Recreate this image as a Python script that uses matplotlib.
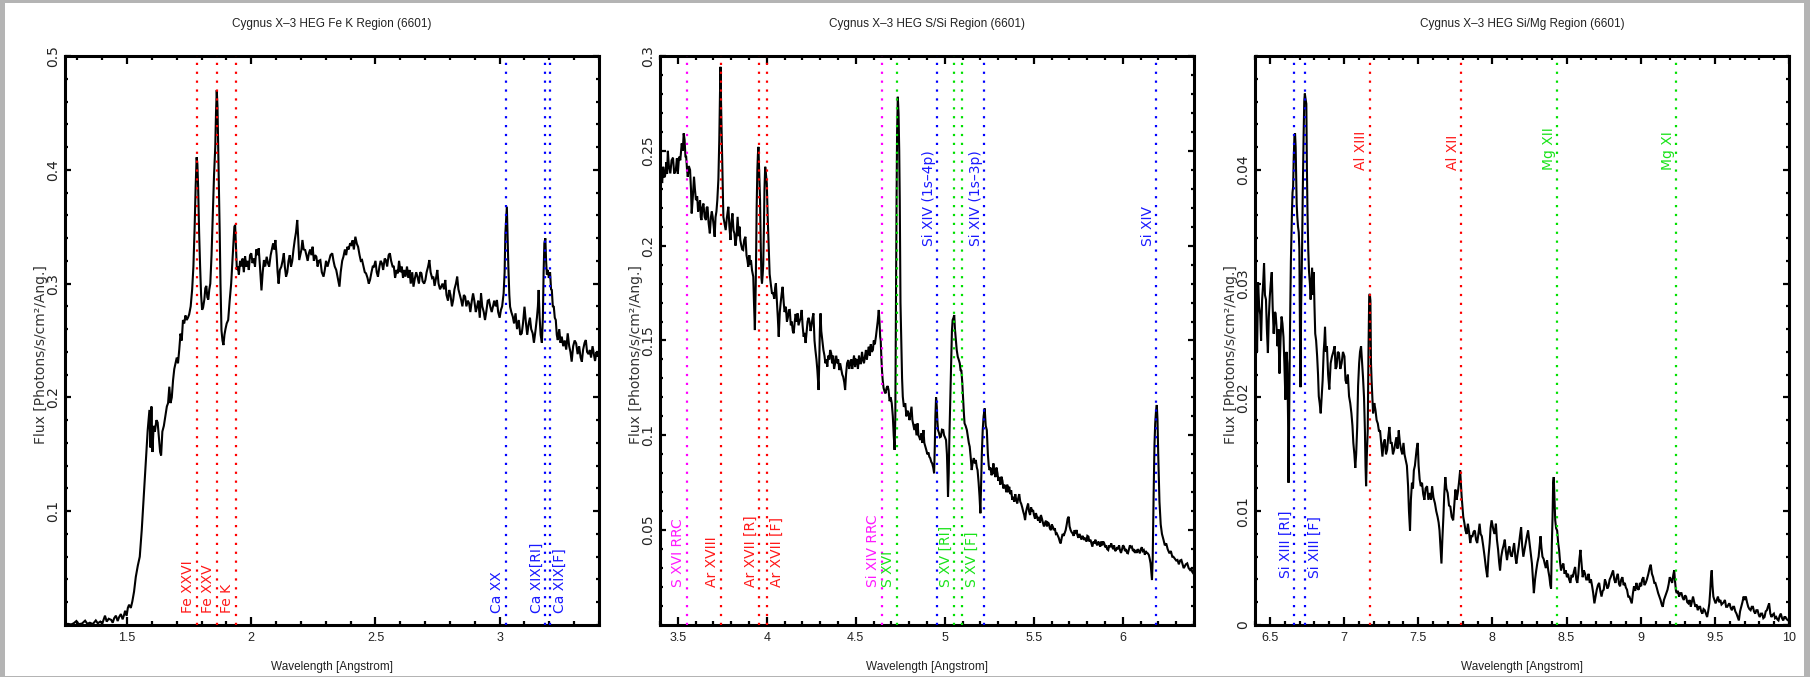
import matplotlib
matplotlib.use("Agg")
import matplotlib.pyplot as plt
from matplotlib.patches import Rectangle
from matplotlib.ticker import MultipleLocator

# ---------------------------------------------------------------------------
# Cygnus X-3, Chandra HEG spectrum (ObsID 6601): wavelength [A], flux
# ---------------------------------------------------------------------------
fe_spectrum = [
    (1.250, 0.0005), (1.262, 0.0010), (1.275, 0.0005), (1.285, 0.0015), (1.296, 0.0035),
    (1.305, 0.0008), (1.318, 0.0012), (1.331, 0.0038), (1.340, 0.0010), (1.350, 0.0020),
    (1.362, 0.0008), (1.374, 0.0040), (1.382, 0.0015), (1.392, 0.0030), (1.400, 0.0012),
    (1.411, 0.0082), (1.418, 0.0030), (1.426, 0.0055), (1.436, 0.0045), (1.442, 0.0020),
    (1.448, 0.0060), (1.455, 0.0082), (1.462, 0.0035), (1.468, 0.0070), (1.475, 0.0096),
    (1.482, 0.0050), (1.488, 0.0090), (1.492, 0.0125), (1.498, 0.0080), (1.503, 0.0150),
    (1.508, 0.0178), (1.515, 0.0150), (1.521, 0.0206), (1.528, 0.0293), (1.535, 0.0422),
    (1.543, 0.0520), (1.551, 0.0600), (1.559, 0.0835), (1.567, 0.1128), (1.575, 0.1421),
    (1.583, 0.1714), (1.590, 0.1890), (1.594, 0.1560), (1.598, 0.1920), (1.602, 0.1520),
    (1.607, 0.1750), (1.612, 0.1700), (1.618, 0.1800), (1.623, 0.1780), (1.628, 0.1650),
    (1.633, 0.1520), (1.637, 0.1490), (1.642, 0.1700), (1.648, 0.1750), (1.655, 0.1850),
    (1.660, 0.1920), (1.665, 0.1950), (1.670, 0.2094), (1.675, 0.1950), (1.680, 0.2000),
    (1.685, 0.2150), (1.690, 0.2250), (1.695, 0.2300), (1.700, 0.2350), (1.705, 0.2300),
    (1.710, 0.2420), (1.715, 0.2560), (1.720, 0.2500), (1.725, 0.2680), (1.730, 0.2650),
    (1.735, 0.2720), (1.740, 0.2680), (1.745, 0.2700), (1.750, 0.2730), (1.756, 0.2800),
    (1.762, 0.2950), (1.767, 0.3150), (1.772, 0.3500), (1.776, 0.3850), (1.780, 0.4110),
    (1.783, 0.4050), (1.786, 0.3850), (1.790, 0.3450), (1.794, 0.3150), (1.798, 0.2900),
    (1.802, 0.2770), (1.806, 0.2790), (1.811, 0.2860), (1.815, 0.2960), (1.819, 0.2980),
    (1.823, 0.2880), (1.827, 0.2860), (1.831, 0.2950), (1.835, 0.3000), (1.840, 0.3250),
    (1.845, 0.3600), (1.850, 0.3950), (1.855, 0.4200), (1.858, 0.4500), (1.861, 0.4700),
    (1.864, 0.4550), (1.867, 0.4200), (1.870, 0.3800), (1.873, 0.3440), (1.876, 0.3000),
    (1.880, 0.2590), (1.884, 0.2500), (1.888, 0.2460), (1.892, 0.2550), (1.896, 0.2600),
    (1.901, 0.2650), (1.907, 0.2680), (1.913, 0.2850), (1.919, 0.3000), (1.924, 0.3200),
    (1.928, 0.3350), (1.932, 0.3500), (1.935, 0.3515), (1.939, 0.3300), (1.942, 0.3120),
    (1.946, 0.3150), (1.950, 0.3080), (1.955, 0.3200), (1.960, 0.3150), (1.965, 0.3220),
    (1.970, 0.3100), (1.975, 0.3240), (1.980, 0.3150), (1.985, 0.3200), (1.990, 0.3120),
    (1.995, 0.3250), (2.000, 0.3266), (2.005, 0.3180), (2.010, 0.3220), (2.015, 0.3149),
    (2.020, 0.3300), (2.025, 0.3250), (2.030, 0.3310), (2.035, 0.3150), (2.041, 0.2940),
    (2.046, 0.3100), (2.051, 0.3207), (2.056, 0.3150), (2.062, 0.3236), (2.067, 0.3180),
    (2.072, 0.3149), (2.078, 0.3250), (2.083, 0.3300), (2.088, 0.3354), (2.093, 0.3300),
    (2.097, 0.3383), (2.102, 0.3250), (2.106, 0.3100), (2.110, 0.3000), (2.115, 0.3120),
    (2.121, 0.3149), (2.126, 0.3200), (2.131, 0.3266), (2.135, 0.3150), (2.140, 0.3061),
    (2.145, 0.3100), (2.150, 0.3200), (2.155, 0.3250), (2.160, 0.3149), (2.165, 0.3200),
    (2.170, 0.3300), (2.175, 0.3383), (2.180, 0.3450), (2.185, 0.3559), (2.189, 0.3400),
    (2.193, 0.3207), (2.197, 0.3250), (2.202, 0.3300), (2.206, 0.3383), (2.211, 0.3300),
    (2.217, 0.3295), (2.222, 0.3250), (2.227, 0.3200), (2.232, 0.3266), (2.237, 0.3300),
    (2.242, 0.3250), (2.247, 0.3324), (2.252, 0.3200), (2.257, 0.3250), (2.262, 0.3236),
    (2.267, 0.3150), (2.272, 0.3200), (2.278, 0.3207), (2.284, 0.3100), (2.291, 0.3061),
    (2.296, 0.3120), (2.301, 0.3200), (2.307, 0.3149), (2.313, 0.3200), (2.319, 0.3250),
    (2.326, 0.3266), (2.331, 0.3200), (2.336, 0.3150), (2.342, 0.3120), (2.348, 0.3050),
    (2.355, 0.2973), (2.360, 0.3100), (2.366, 0.3200), (2.371, 0.3236), (2.377, 0.3300),
    (2.382, 0.3250), (2.387, 0.3324), (2.392, 0.3300), (2.398, 0.3354), (2.403, 0.3342),
    (2.408, 0.3380), (2.413, 0.3300), (2.419, 0.3412), (2.425, 0.3350), (2.430, 0.3324),
    (2.436, 0.3250), (2.441, 0.3200), (2.446, 0.3207), (2.452, 0.3150), (2.457, 0.3100),
    (2.462, 0.3090), (2.468, 0.3050), (2.473, 0.3000), (2.478, 0.3032), (2.484, 0.3100),
    (2.489, 0.3150), (2.494, 0.3149), (2.500, 0.3200), (2.505, 0.3100), (2.510, 0.3061),
    (2.516, 0.3150), (2.521, 0.3200), (2.526, 0.3178), (2.531, 0.3120), (2.537, 0.3220),
    (2.542, 0.3207), (2.547, 0.3150), (2.553, 0.3250), (2.558, 0.3266), (2.563, 0.3200),
    (2.569, 0.3150), (2.574, 0.3149), (2.579, 0.3050), (2.585, 0.3120), (2.590, 0.3090),
    (2.595, 0.3200), (2.601, 0.3100), (2.606, 0.3149), (2.611, 0.3050), (2.616, 0.3120),
    (2.621, 0.3061), (2.627, 0.3150), (2.632, 0.3050), (2.637, 0.3120), (2.642, 0.3000),
    (2.648, 0.3100), (2.653, 0.2973), (2.659, 0.3050), (2.664, 0.3100), (2.669, 0.3061),
    (2.675, 0.3000), (2.680, 0.3100), (2.685, 0.3090), (2.690, 0.3020), (2.696, 0.3000),
    (2.701, 0.3032), (2.706, 0.3100), (2.712, 0.3150), (2.717, 0.3207), (2.722, 0.3100),
    (2.728, 0.3050), (2.733, 0.3061), (2.738, 0.2980), (2.744, 0.3050), (2.749, 0.3120),
    (2.754, 0.3000), (2.760, 0.2950), (2.765, 0.2973), (2.770, 0.3000), (2.776, 0.2950),
    (2.781, 0.3032), (2.786, 0.2900), (2.792, 0.2850), (2.797, 0.2944), (2.802, 0.2900),
    (2.808, 0.2800), (2.813, 0.2856), (2.818, 0.2950), (2.824, 0.3000), (2.829, 0.3061),
    (2.834, 0.2950), (2.840, 0.2900), (2.845, 0.2856), (2.850, 0.2800), (2.856, 0.2900),
    (2.861, 0.2885), (2.866, 0.2800), (2.872, 0.2850), (2.877, 0.2827), (2.882, 0.2750),
    (2.888, 0.2850), (2.893, 0.2914), (2.898, 0.2850), (2.904, 0.2750), (2.909, 0.2797),
    (2.914, 0.2850), (2.920, 0.2700), (2.925, 0.2914), (2.930, 0.2800), (2.936, 0.2750),
    (2.941, 0.2680), (2.946, 0.2750), (2.952, 0.2850), (2.957, 0.2856), (2.962, 0.2800),
    (2.968, 0.2750), (2.973, 0.2797), (2.978, 0.2850), (2.984, 0.2800), (2.989, 0.2856),
    (2.994, 0.2750), (3.000, 0.2700), (3.005, 0.2768), (3.010, 0.2800), (3.016, 0.2914),
    (3.020, 0.3100), (3.023, 0.3442), (3.027, 0.3600), (3.029, 0.3676), (3.032, 0.3400),
    (3.035, 0.3149), (3.039, 0.2900), (3.042, 0.2797), (3.047, 0.2750), (3.053, 0.2709),
    (3.058, 0.2650), (3.064, 0.2739), (3.070, 0.2600), (3.077, 0.2680), (3.083, 0.2550),
    (3.089, 0.2563), (3.094, 0.2650), (3.100, 0.2797), (3.106, 0.2650), (3.111, 0.2550),
    (3.117, 0.2651), (3.122, 0.2700), (3.127, 0.2600), (3.133, 0.2563), (3.138, 0.2480),
    (3.145, 0.2600), (3.150, 0.2700), (3.154, 0.2800), (3.157, 0.2944), (3.161, 0.2700),
    (3.165, 0.2550), (3.170, 0.2480), (3.174, 0.2700), (3.177, 0.3100), (3.180, 0.3354),
    (3.184, 0.3398), (3.187, 0.3200), (3.190, 0.3080), (3.194, 0.3120), (3.198, 0.3050),
    (3.203, 0.3100), (3.207, 0.2950), (3.210, 0.2944), (3.214, 0.2800), (3.218, 0.2797),
    (3.222, 0.2700), (3.226, 0.2680), (3.230, 0.2550), (3.234, 0.2504), (3.240, 0.2600),
    (3.245, 0.2480), (3.250, 0.2534), (3.256, 0.2450), (3.262, 0.2500), (3.268, 0.2420),
    (3.274, 0.2563), (3.280, 0.2450), (3.285, 0.2400), (3.290, 0.2314), (3.296, 0.2450),
    (3.302, 0.2500), (3.308, 0.2475), (3.314, 0.2380), (3.320, 0.2450), (3.326, 0.2350),
    (3.331, 0.2314), (3.336, 0.2420), (3.342, 0.2480), (3.347, 0.2504), (3.352, 0.2400),
    (3.358, 0.2380), (3.363, 0.2417), (3.368, 0.2350), (3.374, 0.2450), (3.379, 0.2387),
    (3.384, 0.2320), (3.390, 0.2400), (3.395, 0.2358), (3.400, 0.2380),
]

ssi_spectrum = [
    (3.400, 0.2346), (3.406, 0.2390), (3.412, 0.2330), (3.418, 0.2416), (3.424, 0.2360),
    (3.429, 0.2372), (3.436, 0.2440), (3.440, 0.2380), (3.444, 0.2500), (3.450, 0.2420),
    (3.458, 0.2381), (3.465, 0.2450), (3.473, 0.2464), (3.480, 0.2380), (3.489, 0.2399),
    (3.495, 0.2460), (3.500, 0.2380), (3.507, 0.2469), (3.514, 0.2450), (3.522, 0.2539),
    (3.528, 0.2500), (3.533, 0.2592), (3.538, 0.2560), (3.543, 0.2470), (3.547, 0.2469),
    (3.552, 0.2400), (3.556, 0.2363), (3.562, 0.2420), (3.569, 0.2399), (3.574, 0.2300),
    (3.578, 0.2170), (3.584, 0.2250), (3.591, 0.2363), (3.596, 0.2300), (3.602, 0.2240),
    (3.609, 0.2260), (3.614, 0.2180), (3.618, 0.2205), (3.625, 0.2240), (3.629, 0.2150),
    (3.633, 0.2135), (3.638, 0.2200), (3.644, 0.2222), (3.651, 0.2150), (3.658, 0.2135),
    (3.662, 0.2200), (3.667, 0.2205), (3.673, 0.2120), (3.680, 0.2065), (3.686, 0.2150),
    (3.691, 0.2180), (3.696, 0.2152), (3.702, 0.2100), (3.707, 0.2047), (3.712, 0.2150),
    (3.717, 0.2180), (3.722, 0.2240), (3.728, 0.2350), (3.733, 0.2557), (3.737, 0.2800),
    (3.740, 0.2943), (3.743, 0.2750), (3.747, 0.2557), (3.752, 0.2300), (3.756, 0.2152),
    (3.762, 0.2120), (3.769, 0.2082), (3.776, 0.2150), (3.784, 0.2205), (3.790, 0.2100),
    (3.796, 0.2030), (3.801, 0.2120), (3.807, 0.2170), (3.813, 0.2080), (3.818, 0.2065),
    (3.824, 0.2000), (3.830, 0.2050), (3.836, 0.2152), (3.842, 0.2050), (3.847, 0.2100),
    (3.851, 0.2030), (3.857, 0.2000), (3.862, 0.1980), (3.867, 0.1977), (3.873, 0.2030),
    (3.880, 0.2047), (3.886, 0.1950), (3.891, 0.1924), (3.896, 0.1889), (3.902, 0.1950),
    (3.906, 0.1900), (3.911, 0.1924), (3.917, 0.1870), (3.924, 0.1836), (3.928, 0.1700),
    (3.933, 0.1555), (3.938, 0.1800), (3.943, 0.2200), (3.947, 0.2400), (3.950, 0.2480),
    (3.953, 0.2521), (3.957, 0.2400), (3.962, 0.2240), (3.966, 0.2000), (3.970, 0.1830),
    (3.973, 0.1801), (3.977, 0.1850), (3.980, 0.1900), (3.984, 0.2100), (3.987, 0.2300),
    (3.991, 0.2416), (3.995, 0.2380), (4.000, 0.2328), (4.005, 0.2150), (4.011, 0.1977),
    (4.016, 0.1850), (4.022, 0.1801), (4.029, 0.1750), (4.036, 0.1749), (4.042, 0.1720),
    (4.047, 0.1780), (4.051, 0.1801), (4.057, 0.1700), (4.062, 0.1620), (4.067, 0.1520),
    (4.073, 0.1650), (4.078, 0.1700), (4.084, 0.1750), (4.089, 0.1783), (4.095, 0.1700),
    (4.100, 0.1650), (4.107, 0.1678), (4.113, 0.1600), (4.118, 0.1620), (4.124, 0.1660),
    (4.129, 0.1661), (4.135, 0.1580), (4.140, 0.1600), (4.146, 0.1550), (4.151, 0.1538),
    (4.157, 0.1600), (4.162, 0.1640), (4.168, 0.1600), (4.173, 0.1643), (4.178, 0.1580),
    (4.184, 0.1600), (4.190, 0.1620), (4.196, 0.1661), (4.201, 0.1580), (4.207, 0.1520),
    (4.212, 0.1540), (4.218, 0.1487), (4.224, 0.1550), (4.229, 0.1600), (4.235, 0.1620),
    (4.240, 0.1600), (4.246, 0.1550), (4.251, 0.1580), (4.257, 0.1620), (4.262, 0.1643),
    (4.268, 0.1500), (4.273, 0.1450), (4.279, 0.1400), (4.284, 0.1344), (4.288, 0.1280),
    (4.291, 0.1239), (4.295, 0.1400), (4.298, 0.1550), (4.302, 0.1643), (4.306, 0.1550),
    (4.312, 0.1500), (4.318, 0.1450), (4.324, 0.1420), (4.329, 0.1380), (4.334, 0.1400),
    (4.340, 0.1362), (4.345, 0.1420), (4.351, 0.1400), (4.356, 0.1450), (4.362, 0.1432),
    (4.367, 0.1380), (4.373, 0.1420), (4.378, 0.1350), (4.384, 0.1380), (4.390, 0.1420),
    (4.396, 0.1380), (4.401, 0.1400), (4.407, 0.1344), (4.412, 0.1380), (4.418, 0.1350),
    (4.424, 0.1320), (4.429, 0.1309), (4.435, 0.1280), (4.440, 0.1239), (4.445, 0.1320),
    (4.451, 0.1380), (4.458, 0.1397), (4.463, 0.1350), (4.469, 0.1380), (4.475, 0.1400),
    (4.480, 0.1350), (4.484, 0.1380), (4.490, 0.1420), (4.496, 0.1360), (4.501, 0.1400),
    (4.507, 0.1397), (4.512, 0.1350), (4.518, 0.1420), (4.524, 0.1380), (4.529, 0.1380),
    (4.535, 0.1440), (4.540, 0.1400), (4.546, 0.1380), (4.551, 0.1414), (4.557, 0.1450),
    (4.562, 0.1400), (4.568, 0.1440), (4.573, 0.1467), (4.579, 0.1420), (4.584, 0.1480),
    (4.590, 0.1440), (4.596, 0.1450), (4.601, 0.1500), (4.607, 0.1480), (4.613, 0.1520),
    (4.618, 0.1560), (4.623, 0.1600), (4.627, 0.1640), (4.629, 0.1661), (4.633, 0.1600),
    (4.637, 0.1520), (4.640, 0.1500), (4.644, 0.1400), (4.648, 0.1330), (4.651, 0.1292),
    (4.656, 0.1250), (4.662, 0.1230), (4.667, 0.1221), (4.673, 0.1250), (4.679, 0.1260),
    (4.684, 0.1239), (4.690, 0.1180), (4.696, 0.1200), (4.702, 0.1169), (4.708, 0.1100),
    (4.713, 0.1000), (4.718, 0.0923), (4.722, 0.1100), (4.725, 0.1600), (4.729, 0.2240),
    (4.732, 0.2600), (4.736, 0.2785), (4.740, 0.2700), (4.744, 0.2500), (4.747, 0.2240),
    (4.751, 0.1700), (4.756, 0.1467), (4.760, 0.1300), (4.764, 0.1204), (4.770, 0.1150),
    (4.778, 0.1169), (4.784, 0.1100), (4.790, 0.1130), (4.796, 0.1116), (4.802, 0.1080),
    (4.808, 0.1120), (4.813, 0.1151), (4.818, 0.1080), (4.824, 0.1050), (4.829, 0.1028),
    (4.835, 0.1060), (4.841, 0.1000), (4.847, 0.1063), (4.852, 0.1000), (4.857, 0.0990),
    (4.862, 0.0975), (4.868, 0.1010), (4.874, 0.0960), (4.880, 0.1028), (4.885, 0.0960),
    (4.891, 0.0940), (4.896, 0.0923), (4.902, 0.0900), (4.908, 0.0910), (4.913, 0.0887),
    (4.918, 0.0880), (4.924, 0.0860), (4.929, 0.0852), (4.935, 0.0830), (4.940, 0.0800),
    (4.944, 0.0950), (4.947, 0.1100), (4.951, 0.1200), (4.955, 0.1150), (4.958, 0.1080),
    (4.962, 0.1028), (4.968, 0.1010), (4.973, 0.0990), (4.978, 0.0993), (4.984, 0.1030),
    (4.991, 0.1028), (4.996, 0.1000), (5.001, 0.0990), (5.007, 0.0975), (5.012, 0.0900),
    (5.015, 0.0800), (5.018, 0.0676), (5.022, 0.0800), (5.026, 0.1000), (5.031, 0.1204),
    (5.036, 0.1400), (5.040, 0.1550), (5.044, 0.1608), (5.049, 0.1620), (5.053, 0.1634),
    (5.057, 0.1560), (5.062, 0.1502), (5.067, 0.1450), (5.073, 0.1414), (5.078, 0.1400),
    (5.084, 0.1380), (5.089, 0.1340), (5.093, 0.1344), (5.098, 0.1280), (5.102, 0.1204),
    (5.107, 0.1120), (5.111, 0.1063), (5.117, 0.1050), (5.124, 0.1028), (5.130, 0.0990),
    (5.135, 0.0960), (5.140, 0.0940), (5.146, 0.0880), (5.151, 0.0817), (5.157, 0.0860),
    (5.163, 0.0880), (5.169, 0.0852), (5.174, 0.0870), (5.180, 0.0830), (5.184, 0.0817),
    (5.190, 0.0750), (5.195, 0.0680), (5.200, 0.0589), (5.204, 0.0750), (5.208, 0.0900),
    (5.213, 0.1028), (5.218, 0.1100), (5.224, 0.1142), (5.230, 0.1050), (5.236, 0.1028),
    (5.242, 0.0900), (5.247, 0.0840), (5.251, 0.0817), (5.257, 0.0830), (5.262, 0.0790),
    (5.268, 0.0800), (5.273, 0.0852), (5.279, 0.0800), (5.285, 0.0780), (5.290, 0.0830),
    (5.296, 0.0800), (5.301, 0.0760), (5.307, 0.0780), (5.312, 0.0740), (5.318, 0.0782),
    (5.324, 0.0760), (5.329, 0.0720), (5.334, 0.0740), (5.340, 0.0729), (5.346, 0.0700),
    (5.351, 0.0740), (5.356, 0.0700), (5.362, 0.0729), (5.368, 0.0690), (5.373, 0.0710),
    (5.379, 0.0660), (5.384, 0.0676), (5.390, 0.0650), (5.396, 0.0690), (5.401, 0.0660),
    (5.407, 0.0641), (5.413, 0.0670), (5.418, 0.0690), (5.424, 0.0650), (5.429, 0.0640),
    (5.435, 0.0620), (5.440, 0.0600), (5.446, 0.0580), (5.451, 0.0553), (5.457, 0.0600),
    (5.462, 0.0620), (5.468, 0.0640), (5.473, 0.0600), (5.479, 0.0580), (5.485, 0.0620),
    (5.490, 0.0600), (5.496, 0.0606), (5.501, 0.0580), (5.507, 0.0560), (5.512, 0.0590),
    (5.518, 0.0571), (5.524, 0.0550), (5.529, 0.0570), (5.535, 0.0540), (5.540, 0.0580),
    (5.546, 0.0560), (5.551, 0.0540), (5.557, 0.0520), (5.562, 0.0536), (5.568, 0.0550),
    (5.573, 0.0520), (5.579, 0.0540), (5.584, 0.0536), (5.590, 0.0510), (5.596, 0.0500),
    (5.601, 0.0530), (5.607, 0.0518), (5.612, 0.0500), (5.618, 0.0510), (5.624, 0.0480),
    (5.629, 0.0483), (5.635, 0.0470), (5.640, 0.0460), (5.646, 0.0440), (5.651, 0.0430),
    (5.657, 0.0460), (5.662, 0.0480), (5.668, 0.0470), (5.673, 0.0483), (5.679, 0.0500),
    (5.685, 0.0530), (5.690, 0.0560), (5.696, 0.0571), (5.701, 0.0520), (5.707, 0.0500),
    (5.712, 0.0490), (5.718, 0.0483), (5.724, 0.0470), (5.729, 0.0500), (5.735, 0.0480),
    (5.740, 0.0501), (5.746, 0.0470), (5.751, 0.0460), (5.757, 0.0480), (5.762, 0.0466),
    (5.768, 0.0450), (5.773, 0.0470), (5.779, 0.0460), (5.784, 0.0448), (5.790, 0.0460),
    (5.796, 0.0440), (5.801, 0.0470), (5.807, 0.0466), (5.812, 0.0440), (5.818, 0.0450),
    (5.824, 0.0430), (5.829, 0.0413), (5.835, 0.0440), (5.840, 0.0430), (5.846, 0.0450),
    (5.851, 0.0430), (5.857, 0.0420), (5.862, 0.0440), (5.868, 0.0430), (5.873, 0.0413),
    (5.879, 0.0440), (5.884, 0.0420), (5.890, 0.0440), (5.896, 0.0430), (5.901, 0.0410),
    (5.907, 0.0420), (5.912, 0.0400), (5.918, 0.0395), (5.924, 0.0420), (5.929, 0.0410),
    (5.935, 0.0430), (5.940, 0.0413), (5.946, 0.0400), (5.951, 0.0420), (5.957, 0.0390),
    (5.962, 0.0395), (5.968, 0.0410), (5.973, 0.0400), (5.979, 0.0420), (5.984, 0.0395),
    (5.990, 0.0380), (5.996, 0.0400), (6.001, 0.0420), (6.007, 0.0413), (6.012, 0.0390),
    (6.018, 0.0400), (6.024, 0.0380), (6.029, 0.0378), (6.035, 0.0400), (6.040, 0.0420),
    (6.046, 0.0410), (6.051, 0.0413), (6.057, 0.0390), (6.062, 0.0400), (6.068, 0.0380),
    (6.073, 0.0395), (6.079, 0.0380), (6.084, 0.0400), (6.090, 0.0390), (6.096, 0.0378),
    (6.101, 0.0400), (6.107, 0.0410), (6.112, 0.0390), (6.118, 0.0395), (6.124, 0.0370),
    (6.129, 0.0390), (6.135, 0.0380), (6.140, 0.0378), (6.146, 0.0370), (6.151, 0.0350),
    (6.156, 0.0325), (6.160, 0.0280), (6.164, 0.0237), (6.168, 0.0350), (6.173, 0.0676),
    (6.178, 0.0950), (6.182, 0.1063), (6.186, 0.1120), (6.191, 0.1160), (6.195, 0.1080),
    (6.199, 0.0900), (6.202, 0.0800), (6.206, 0.0650), (6.213, 0.0530), (6.220, 0.0480),
    (6.229, 0.0448), (6.236, 0.0420), (6.244, 0.0430), (6.252, 0.0400), (6.262, 0.0378),
    (6.270, 0.0390), (6.278, 0.0360), (6.284, 0.0360), (6.292, 0.0350), (6.300, 0.0340),
    (6.307, 0.0343), (6.315, 0.0320), (6.322, 0.0340), (6.329, 0.0343), (6.336, 0.0320),
    (6.342, 0.0300), (6.347, 0.0307), (6.354, 0.0320), (6.362, 0.0325), (6.370, 0.0300),
    (6.378, 0.0290), (6.385, 0.0300), (6.390, 0.0280), (6.396, 0.0272), (6.400, 0.0275),
]

simg_spectrum = [
    (6.400, 0.0290), (6.408, 0.0297), (6.414, 0.0240), (6.421, 0.0301), (6.428, 0.0280),
    (6.435, 0.0273), (6.441, 0.0250), (6.448, 0.0286), (6.455, 0.0300), (6.461, 0.0318),
    (6.467, 0.0290), (6.474, 0.0286), (6.480, 0.0260), (6.487, 0.0239), (6.493, 0.0270),
    (6.500, 0.0289), (6.506, 0.0300), (6.513, 0.0310), (6.519, 0.0280), (6.526, 0.0256),
    (6.533, 0.0275), (6.539, 0.0274), (6.546, 0.0260), (6.552, 0.0245), (6.558, 0.0260),
    (6.565, 0.0221), (6.572, 0.0250), (6.579, 0.0271), (6.585, 0.0265), (6.592, 0.0253),
    (6.598, 0.0230), (6.605, 0.0198), (6.612, 0.0240), (6.618, 0.0230), (6.623, 0.0180),
    (6.626, 0.0125), (6.630, 0.0180), (6.636, 0.0260), (6.642, 0.0320), (6.649, 0.0362),
    (6.653, 0.0380), (6.657, 0.0385), (6.661, 0.0410), (6.666, 0.0430), (6.670, 0.0432),
    (6.674, 0.0420), (6.678, 0.0389), (6.681, 0.0370), (6.685, 0.0359), (6.690, 0.0350),
    (6.695, 0.0345), (6.699, 0.0330), (6.703, 0.0260), (6.707, 0.0209), (6.711, 0.0280),
    (6.717, 0.0327), (6.722, 0.0380), (6.728, 0.0432), (6.732, 0.0460), (6.736, 0.0467),
    (6.741, 0.0462), (6.746, 0.0458), (6.750, 0.0400), (6.754, 0.0362), (6.759, 0.0330),
    (6.764, 0.0311), (6.770, 0.0300), (6.775, 0.0286), (6.780, 0.0300), (6.785, 0.0314),
    (6.791, 0.0290), (6.796, 0.0310), (6.801, 0.0280), (6.806, 0.0256), (6.812, 0.0250),
    (6.819, 0.0236), (6.825, 0.0220), (6.830, 0.0201), (6.836, 0.0195), (6.843, 0.0186),
    (6.849, 0.0200), (6.856, 0.0215), (6.863, 0.0240), (6.868, 0.0250), (6.872, 0.0262),
    (6.878, 0.0240), (6.885, 0.0245), (6.893, 0.0220), (6.901, 0.0207), (6.910, 0.0230),
    (6.919, 0.0236), (6.928, 0.0240), (6.937, 0.0245), (6.943, 0.0225), (6.950, 0.0227),
    (6.958, 0.0240), (6.966, 0.0239), (6.975, 0.0225), (6.984, 0.0230), (6.993, 0.0240),
    (7.003, 0.0236), (7.010, 0.0215), (7.018, 0.0212), (7.026, 0.0220), (7.034, 0.0201),
    (7.042, 0.0195), (7.050, 0.0186), (7.057, 0.0175), (7.063, 0.0160), (7.070, 0.0150),
    (7.076, 0.0138), (7.082, 0.0150), (7.089, 0.0174), (7.095, 0.0210), (7.102, 0.0230),
    (7.108, 0.0240), (7.115, 0.0245), (7.122, 0.0230), (7.128, 0.0218), (7.135, 0.0200),
    (7.141, 0.0171), (7.145, 0.0140), (7.149, 0.0122), (7.154, 0.0150), (7.160, 0.0171),
    (7.165, 0.0240), (7.170, 0.0289), (7.174, 0.0291), (7.178, 0.0285), (7.182, 0.0230),
    (7.186, 0.0215), (7.191, 0.0200), (7.196, 0.0186), (7.204, 0.0195), (7.212, 0.0189),
    (7.220, 0.0180), (7.228, 0.0177), (7.236, 0.0170), (7.243, 0.0171), (7.251, 0.0160),
    (7.259, 0.0148), (7.267, 0.0160), (7.275, 0.0163), (7.283, 0.0150), (7.291, 0.0154),
    (7.298, 0.0165), (7.306, 0.0174), (7.314, 0.0160), (7.322, 0.0160), (7.330, 0.0150),
    (7.338, 0.0154), (7.346, 0.0160), (7.353, 0.0165), (7.361, 0.0155), (7.369, 0.0171),
    (7.377, 0.0160), (7.385, 0.0154), (7.393, 0.0150), (7.401, 0.0160), (7.408, 0.0150),
    (7.416, 0.0145), (7.424, 0.0140), (7.432, 0.0122), (7.438, 0.0100), (7.445, 0.0083),
    (7.451, 0.0110), (7.458, 0.0125), (7.465, 0.0120), (7.471, 0.0136), (7.478, 0.0140),
    (7.484, 0.0148), (7.490, 0.0155), (7.497, 0.0160), (7.503, 0.0140), (7.510, 0.0128),
    (7.518, 0.0122), (7.526, 0.0125), (7.534, 0.0115), (7.542, 0.0110), (7.550, 0.0120),
    (7.560, 0.0122), (7.569, 0.0110), (7.579, 0.0116), (7.587, 0.0110), (7.594, 0.0122),
    (7.603, 0.0112), (7.613, 0.0107), (7.622, 0.0100), (7.631, 0.0095), (7.638, 0.0090),
    (7.644, 0.0083), (7.650, 0.0070), (7.657, 0.0054), (7.663, 0.0075), (7.670, 0.0095),
    (7.676, 0.0115), (7.683, 0.0130), (7.690, 0.0120), (7.699, 0.0116), (7.708, 0.0105),
    (7.717, 0.0104), (7.726, 0.0095), (7.736, 0.0092), (7.743, 0.0105), (7.751, 0.0119),
    (7.759, 0.0110), (7.767, 0.0116), (7.775, 0.0125), (7.783, 0.0136), (7.788, 0.0125),
    (7.793, 0.0113), (7.798, 0.0105), (7.804, 0.0095), (7.811, 0.0090), (7.819, 0.0083),
    (7.827, 0.0080), (7.835, 0.0089), (7.843, 0.0082), (7.851, 0.0072), (7.858, 0.0078),
    (7.866, 0.0078), (7.874, 0.0082), (7.882, 0.0083), (7.890, 0.0075), (7.898, 0.0072),
    (7.906, 0.0080), (7.914, 0.0089), (7.921, 0.0080), (7.929, 0.0078), (7.938, 0.0070),
    (7.948, 0.0060), (7.957, 0.0050), (7.966, 0.0042), (7.974, 0.0060), (7.982, 0.0072),
    (7.988, 0.0085), (7.995, 0.0092), (8.001, 0.0088), (8.008, 0.0083), (8.016, 0.0080),
    (8.024, 0.0089), (8.031, 0.0075), (8.039, 0.0066), (8.046, 0.0055), (8.052, 0.0048),
    (8.060, 0.0060), (8.068, 0.0066), (8.076, 0.0070), (8.084, 0.0075), (8.091, 0.0065),
    (8.099, 0.0057), (8.107, 0.0065), (8.115, 0.0069), (8.123, 0.0062), (8.131, 0.0060),
    (8.139, 0.0066), (8.147, 0.0072), (8.155, 0.0060), (8.162, 0.0054), (8.170, 0.0062),
    (8.178, 0.0069), (8.186, 0.0078), (8.194, 0.0086), (8.201, 0.0070), (8.209, 0.0060),
    (8.217, 0.0066), (8.225, 0.0072), (8.233, 0.0078), (8.241, 0.0083), (8.248, 0.0075),
    (8.254, 0.0069), (8.261, 0.0060), (8.267, 0.0054), (8.274, 0.0040), (8.280, 0.0028),
    (8.288, 0.0040), (8.296, 0.0048), (8.304, 0.0055), (8.312, 0.0060), (8.319, 0.0070),
    (8.325, 0.0078), (8.331, 0.0068), (8.338, 0.0060), (8.346, 0.0058), (8.353, 0.0054),
    (8.361, 0.0050), (8.369, 0.0057), (8.377, 0.0048), (8.385, 0.0042), (8.391, 0.0035),
    (8.396, 0.0032), (8.401, 0.0070), (8.406, 0.0095), (8.410, 0.0125), (8.414, 0.0130),
    (8.419, 0.0110), (8.424, 0.0092), (8.430, 0.0085), (8.437, 0.0083), (8.444, 0.0072),
    (8.450, 0.0066), (8.457, 0.0055), (8.463, 0.0048), (8.471, 0.0052), (8.479, 0.0054),
    (8.487, 0.0045), (8.495, 0.0048), (8.503, 0.0042), (8.510, 0.0045), (8.518, 0.0040),
    (8.526, 0.0037), (8.534, 0.0044), (8.542, 0.0042), (8.550, 0.0047), (8.558, 0.0051),
    (8.566, 0.0040), (8.573, 0.0037), (8.580, 0.0045), (8.587, 0.0058), (8.594, 0.0066),
    (8.601, 0.0055), (8.609, 0.0042), (8.617, 0.0048), (8.625, 0.0045), (8.633, 0.0040),
    (8.641, 0.0040), (8.649, 0.0045), (8.657, 0.0037), (8.665, 0.0040), (8.673, 0.0034),
    (8.680, 0.0028), (8.688, 0.0019), (8.696, 0.0025), (8.704, 0.0031), (8.712, 0.0035),
    (8.720, 0.0037), (8.728, 0.0030), (8.736, 0.0025), (8.744, 0.0030), (8.751, 0.0031),
    (8.759, 0.0040), (8.767, 0.0037), (8.775, 0.0032), (8.783, 0.0034), (8.791, 0.0040),
    (8.798, 0.0042), (8.806, 0.0045), (8.814, 0.0048), (8.822, 0.0040), (8.830, 0.0037),
    (8.838, 0.0042), (8.846, 0.0045), (8.854, 0.0036), (8.861, 0.0034), (8.869, 0.0040),
    (8.877, 0.0042), (8.885, 0.0035), (8.893, 0.0037), (8.900, 0.0033), (8.908, 0.0031),
    (8.916, 0.0025), (8.924, 0.0025), (8.932, 0.0022), (8.940, 0.0019), (8.948, 0.0028),
    (8.955, 0.0034), (8.963, 0.0030), (8.971, 0.0037), (8.979, 0.0032), (8.987, 0.0031),
    (8.995, 0.0037), (9.003, 0.0034), (9.010, 0.0040), (9.018, 0.0042), (9.026, 0.0035),
    (9.034, 0.0037), (9.042, 0.0040), (9.052, 0.0045), (9.060, 0.0050), (9.068, 0.0053),
    (9.076, 0.0045), (9.084, 0.0042), (9.092, 0.0037), (9.099, 0.0037), (9.108, 0.0033),
    (9.118, 0.0028), (9.126, 0.0025), (9.134, 0.0022), (9.142, 0.0018), (9.149, 0.0016),
    (9.157, 0.0022), (9.165, 0.0025), (9.173, 0.0028), (9.181, 0.0031), (9.189, 0.0036),
    (9.196, 0.0042), (9.204, 0.0040), (9.212, 0.0037), (9.220, 0.0044), (9.226, 0.0048),
    (9.232, 0.0038), (9.238, 0.0030), (9.243, 0.0028), (9.251, 0.0030), (9.259, 0.0025),
    (9.267, 0.0028), (9.275, 0.0028), (9.283, 0.0024), (9.291, 0.0022), (9.299, 0.0026),
    (9.306, 0.0025), (9.314, 0.0020), (9.322, 0.0019), (9.330, 0.0022), (9.338, 0.0016),
    (9.345, 0.0020), (9.353, 0.0025), (9.361, 0.0020), (9.369, 0.0016), (9.377, 0.0018),
    (9.385, 0.0013), (9.393, 0.0016), (9.401, 0.0016), (9.408, 0.0012), (9.416, 0.0010),
    (9.424, 0.0014), (9.432, 0.0013), (9.440, 0.0010), (9.448, 0.0007), (9.455, 0.0012),
    (9.463, 0.0019), (9.469, 0.0030), (9.474, 0.0042), (9.479, 0.0048), (9.484, 0.0035),
    (9.490, 0.0025), (9.497, 0.0022), (9.505, 0.0019), (9.513, 0.0022), (9.521, 0.0025),
    (9.529, 0.0020), (9.537, 0.0022), (9.545, 0.0018), (9.552, 0.0019), (9.560, 0.0020),
    (9.568, 0.0022), (9.576, 0.0016), (9.584, 0.0016), (9.592, 0.0018), (9.599, 0.0019),
    (9.607, 0.0015), (9.615, 0.0013), (9.623, 0.0016), (9.630, 0.0016), (9.638, 0.0012),
    (9.646, 0.0010), (9.654, 0.0007), (9.662, 0.0004), (9.670, 0.0012), (9.678, 0.0016),
    (9.686, 0.0020), (9.694, 0.0025), (9.701, 0.0022), (9.709, 0.0025), (9.717, 0.0020),
    (9.725, 0.0016), (9.733, 0.0014), (9.741, 0.0013), (9.749, 0.0016), (9.757, 0.0016),
    (9.764, 0.0012), (9.772, 0.0010), (9.780, 0.0013), (9.788, 0.0013), (9.796, 0.0009),
    (9.803, 0.0007), (9.811, 0.0010), (9.819, 0.0010), (9.827, 0.0006), (9.835, 0.0007),
    (9.843, 0.0012), (9.851, 0.0013), (9.858, 0.0016), (9.866, 0.0019), (9.874, 0.0010),
    (9.882, 0.0007), (9.890, 0.0009), (9.898, 0.0010), (9.906, 0.0006), (9.914, 0.0007),
    (9.921, 0.0005), (9.929, 0.0004), (9.937, 0.0008), (9.945, 0.0010), (9.953, 0.0006),
    (9.961, 0.0004), (9.969, 0.0007), (9.976, 0.0007), (9.985, 0.0005), (9.995, 0.0004),
]

# Line identifications: ion label and rest wavelength [A]
fe_line_names = ["Fe XXVI", "Fe XXV", "Fe K", "Ca XX", "Ca XIX[RI]", "Ca XIX[F]"]
fe_line_waves = [1.780, 1.860, 1.937, 3.025, 3.183, 3.202]

ssi_line_names = ["S XVI RRC", "Ar XVIII", "Ar XVII [R]", "Ar XVII [F]", "Si XIV RRC", "S XVI",
                  "Si XIV (1s\u20134p)", "S XV [RI]", "S XV [F]", "Si XIV (1s\u20133p)", "Si XIV"]
ssi_line_waves = [3.549, 3.740, 3.957, 4.000, 4.646, 4.731,
                  4.957, 5.052, 5.097, 5.223, 6.189]

simg_line_names = ["Si XIII [RI]", "Si XIII [F]", "Al XIII", "Al XII", "Mg XII", "Mg XI"]
simg_line_waves = [6.666, 6.734, 7.173, 7.789, 8.438, 9.240]

panel_titles = [
    "Cygnus X\u20133 HEG Fe K Region (6601)",
    "Cygnus X\u20133 HEG S/Si Region (6601)",
    "Cygnus X\u20133 HEG Si/Mg Region (6601)",
]
x_label = "Wavelength [Angstrom]"
y_label = "Flux [Photons/s/cm\u00b2/Ang.]"

# ---------------------------------------------------------------------------
# Styling
# ---------------------------------------------------------------------------
RED, BLUE, GREEN, MAGENTA = "#ff0000", "#0000ff", "#00e000", "#ff00ff"
NARROW = ["Liberation Sans", "DejaVu Sans"]
WIDE = ["DejaVu Sans"]

fe_line_colors = [RED, RED, RED, BLUE, BLUE, BLUE]
ssi_line_colors = [MAGENTA, RED, RED, RED, MAGENTA, GREEN, BLUE, GREEN, GREEN, BLUE, BLUE]
simg_line_colors = [BLUE, BLUE, RED, RED, GREEN, GREEN]

# flux height of the foot of each rotated label
fe_label_y = [0.0105] * 6
ssi_label_y = [0.0202] * 6 + [0.2, 0.0202, 0.0202, 0.2, 0.2]
simg_label_y = [0.0041, 0.0041, 0.04, 0.04, 0.04, 0.04]

panels = [
    dict(spec=fe_spectrum, names=fe_line_names, waves=fe_line_waves, colors=fe_line_colors,
         label_y=fe_label_y, xlim=(1.25, 3.4), ylim=(0, 0.5),
         xticks=[1.5, 2, 2.5, 3], yticks=[0.1, 0.2, 0.3, 0.4, 0.5],
         xminor=0.1, yminor=0.02, left=65),
    dict(spec=ssi_spectrum, names=ssi_line_names, waves=ssi_line_waves, colors=ssi_line_colors,
         label_y=ssi_label_y, xlim=(3.4, 6.4), ylim=(0, 0.3),
         xticks=[3.5, 4, 4.5, 5, 5.5, 6], yticks=[0.05, 0.1, 0.15, 0.2, 0.25, 0.3],
         xminor=0.1, yminor=0.01, left=660),
    dict(spec=simg_spectrum, names=simg_line_names, waves=simg_line_waves, colors=simg_line_colors,
         label_y=simg_label_y, xlim=(6.4, 10), ylim=(0, 0.05),
         xticks=[6.5, 7, 7.5, 8, 8.5, 9, 9.5, 10], yticks=[0, 0.01, 0.02, 0.03, 0.04],
         xminor=0.1, yminor=0.002, left=1255),
]

W, H = 1810, 677
fig = plt.figure(figsize=(W / 100, H / 100), dpi=100)
fig.patch.set_facecolor("#b4b4b4")
fig.add_artist(Rectangle((5 / W, 1 / H), 1799 / W, 673 / H, transform=fig.transFigure,
                         facecolor="white", edgecolor="none", zorder=-10))

ax_w, ax_top, ax_bot = 534, 56, 625


def fmt(v):
    return ("%g" % v)


for title, p in zip(panel_titles, panels):
    ax = fig.add_axes([p["left"] / W, 1 - ax_bot / H, ax_w / W, (ax_bot - ax_top) / H])
    ax.set_facecolor("white")

    waves = [w for w, _ in p["spec"]]
    flux = [f for _, f in p["spec"]]
    ax.plot(waves, flux, color="black", lw=1.5, zorder=3, solid_joinstyle="miter")

    for name, w, c, ly in zip(p["names"], p["waves"], p["colors"], p["label_y"]):
        ax.axvline(w, color=c, lw=1.6, ls=(0, (1, 3.0)), zorder=4)
        right_side = "[F]" in name
        ax.annotate(name, xy=(w, ly), xytext=(3 if right_side else -1.5, 0),
                    textcoords="offset pixels", rotation=90,
                    ha="left" if right_side else "right", va="bottom",
                    color=c, fontsize=10, family=WIDE, zorder=5, alpha=0.9)

    ax.set_xlim(*p["xlim"])
    ax.set_ylim(*p["ylim"])
    ax.set_xticks(p["xticks"], labels=[fmt(v) for v in p["xticks"]],
                  family=NARROW, fontsize=9, color="#222222")
    ax.set_yticks(p["yticks"], labels=[fmt(v) for v in p["yticks"]],
                  family=WIDE, fontsize=10, rotation=90, va="center", color="#222222")
    ax.xaxis.set_minor_locator(MultipleLocator(p["xminor"]))
    ax.yaxis.set_minor_locator(MultipleLocator(p["yminor"]))

    ax.tick_params(which="both", direction="in", top=True, right=True, width=1.6, color="black")
    ax.tick_params(axis="x", which="major", length=5.5, pad=5)
    ax.tick_params(axis="x", which="minor", length=3)
    ax.tick_params(axis="y", which="major", length=4, pad=3.5)
    ax.tick_params(axis="y", which="minor", length=2.2)
    for s in ax.spines.values():
        s.set_linewidth(2.2)

    ax.text(0.5, 1 + 32 / (ax_bot - ax_top), title, transform=ax.transAxes,
            ha="center", va="center", family=NARROW, fontsize=8.5, color="#222222")
    ax.set_xlabel(x_label, family=NARROW, fontsize=8.5, color="#222222", va="center")
    ax.xaxis.set_label_coords(0.5, -42 / (ax_bot - ax_top))
    ax.set_ylabel(y_label, family=WIDE, fontsize=10, color="#333333", va="center")
    ax.yaxis.set_label_coords(-24 / ax_w, 0.476)

fig.savefig("out.png", dpi=100, facecolor=fig.get_facecolor())
